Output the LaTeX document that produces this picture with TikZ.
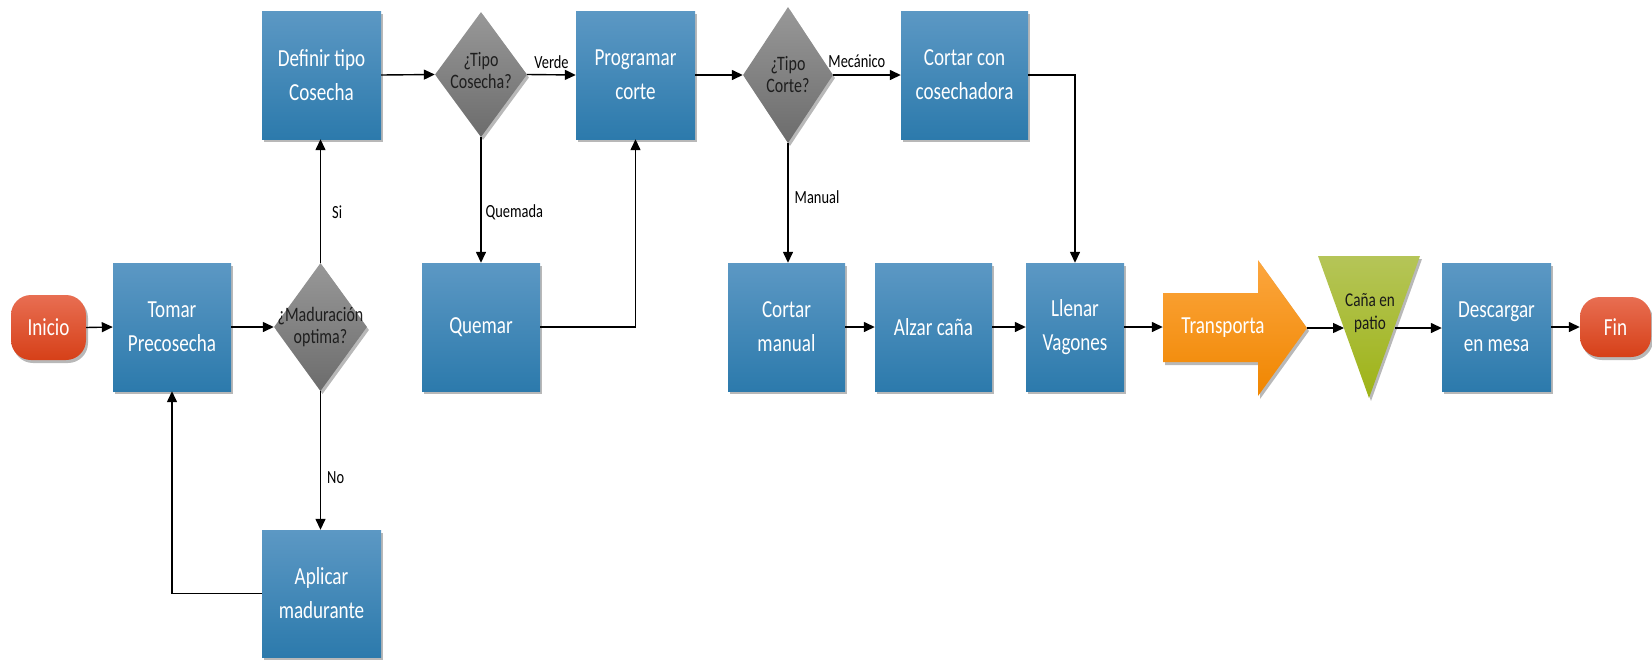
\documentclass[tikz,border=0pt]{standalone}
\usepackage{fontspec}
\setmainfont[FakeStretch=0.78]{Carlito}
\usetikzlibrary{arrows.meta,shapes.geometric,shadows}

\definecolor{boxtop}{RGB}{92,152,196}
\definecolor{boxbot}{RGB}{44,122,172}
\definecolor{dectop}{RGB}{152,152,152}
\definecolor{decbot}{RGB}{108,108,108}
\definecolor{termtop}{RGB}{232,110,82}
\definecolor{termbot}{RGB}{214,64,24}
\definecolor{arrtop}{RGB}{252,166,62}
\definecolor{arrbot}{RGB}{240,134,0}
\definecolor{tritop}{RGB}{181,197,88}
\definecolor{tribot}{RGB}{158,179,22}
\definecolor{dectext}{RGB}{30,30,30}

\begin{document}
\begin{tikzpicture}[x=1pt,y=-1pt,
  font=\fontsize{24.5}{34}\selectfont,
  boxshadow/.style={drop shadow={shadow xshift=2pt,shadow yshift=-3pt,opacity=0.28,fill=black}},
  conn/.style={draw=black,line width=1.4pt,-{Triangle[length=11pt,width=10pt]}},
  proc/.style={rectangle,boxshadow,top color=boxtop,bottom color=boxbot,
    text=white,align=center,inner sep=0pt,minimum height=128pt},
  decision/.style={diamond,boxshadow,top color=dectop,bottom color=decbot,inner sep=0pt},
  dectxt/.style={text=dectext,align=center,font=\fontsize{20.5}{22}\selectfont},
  terminal/.style={rectangle,rounded corners=20pt,boxshadow,top color=termtop,bottom color=termbot,
    text=white,inner sep=0pt},
  lbl/.style={font=\fontsize{18.5}{21}\selectfont,text=black,inner sep=2pt}
]
\useasboundingbox (0,0) rectangle (1652,662);

% start / end
\node[terminal,minimum width=75pt,minimum height=65pt] (inicio) at (48.5,327.5) {Inicio};
\node[terminal,minimum width=71pt,minimum height=60pt] (fin) at (1615.5,327) {Fin};

% process boxes
\node[proc,minimum width=118pt] (tomar) at (172,327) {Tomar\\Precosecha};
\node[proc,minimum width=119pt] (definir) at (321.5,75) {Definir tipo\\Cosecha};
\node[proc,minimum width=119pt,minimum height=127pt] (aplicar) at (321.5,593.5) {Aplicar\\madurante};
\node[proc,minimum width=118pt] (quemar) at (481,327) {Quemar};
\node[proc,minimum width=119pt] (programar) at (635.5,75) {Programar\\corte};
\node[proc,minimum width=127pt] (cosech) at (964.5,75) {Cortar con\\cosechadora};
\node[proc,minimum width=117pt] (cmanual) at (786.5,327) {Cortar\\manual};
\node[proc,minimum width=117pt] (alzar) at (933.5,327) {Alzar caña};
\node[proc,minimum width=98pt] (llenar) at (1075,327) {Llenar\\Vagones};
\node[proc,minimum width=109pt] (descargar) at (1496.5,327) {Descargar\\en mesa};

% decisions
\node[decision,minimum width=93pt,minimum height=128pt,
  label={[dectxt]center:{¿Maduración\\optima?}}] (madur) at (320.5,327) {};
\node[decision,minimum width=92pt,minimum height=125pt,
  label={[dectxt,yshift=4pt]center:{¿Tipo\\Cosecha?}}] (tcos) at (481,74.5) {};
\node[decision,minimum width=90pt,minimum height=136pt,
  label={[dectxt]center:{¿Tipo\\Corte?}}] (tcorte) at (788,75) {};

% transport arrow
\fill[black,opacity=0.28,shift={(2pt,-3pt)}]
  (1163,293) -- (1258,293) -- (1258,260) -- (1307,328) -- (1258,396) -- (1258,362) -- (1163,362) -- cycle;
\shade[top color=arrtop,bottom color=arrbot]
  (1163,293) -- (1258,293) -- (1258,260) -- (1307,328) -- (1258,396) -- (1258,362) -- (1163,362) -- cycle;
\node[text=white,inner sep=0pt,minimum width=120pt,minimum height=69pt] (transp) at (1223,327.5) {Transporta};
\coordinate (tip) at (1307,328);

% yard triangle
\fill[black,opacity=0.28,shift={(2pt,-3pt)}] (1318,256) -- (1420,256) -- (1369,398) -- cycle;
\shade[top color=tritop,bottom color=tribot] (1318,256) -- (1420,256) -- (1369,398) -- cycle;
\node[dectxt,text=black!90,font=\fontsize{19.5}{23}\selectfont] (patio) at (1370,313) {Caña en\\patio};
\coordinate (patioin) at (1344,328);
\coordinate (patioout) at (1395,328);

% connectors
\draw[conn] (inicio.east) -- (tomar.west);
\draw[conn] (tomar.east) -- (madur.west);
\draw[conn] (madur.north) -- node[lbl,pos=0.41,right=9pt] {Si} (madur.north |- definir.south);
\draw[conn] (madur.south) -- node[lbl,pos=0.62,right=4pt] {No} (madur.south |- aplicar.north);
\draw[conn] (aplicar.west) -| (tomar.south);
\draw[conn] (definir.east) -- (tcos.west);
\draw[conn] (tcos.east) -- node[lbl,above=3pt] {Verde} (programar.west);
\draw[conn] (tcos.south) -- node[lbl,pos=0.6,right=2pt] {Quemada} (tcos.south |- quemar.north);
\draw[conn] (quemar.east) -| (programar.south);
\draw[conn] (programar.east) -- (tcorte.west);
\draw[conn] (tcorte.east) -- node[lbl,pos=0.35,above=5pt] {Mecánico} (cosech.west);
\draw[conn] (tcorte.south) -- node[lbl,pos=0.45,right=4pt] {Manual} (tcorte.south |- cmanual.north);
\draw[conn] (cmanual.east) -- (alzar.west);
\draw[conn] (alzar.east) -- (llenar.west);
\draw[conn] (cosech.east) -| (llenar.north);
\draw[conn] (llenar.east) -- (llenar.east -| transp.west);
\draw[conn] (tip) -- (patioin);
\draw[conn] (patioout) -- (patioout -| descargar.west);
\draw[conn] (descargar.east) -- (fin.west);
\end{tikzpicture}
\end{document}
